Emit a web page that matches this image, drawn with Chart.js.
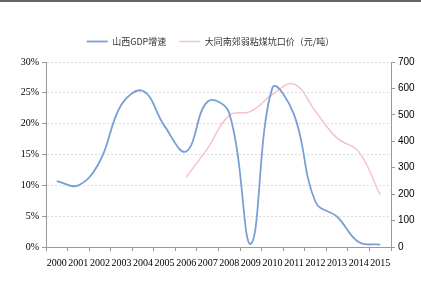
<!DOCTYPE html>
<html>
<head>
<meta charset="utf-8">
<script src="https://cdn.jsdelivr.net/npm/chart.js@4/dist/chart.umd.min.js"></script>
<style>
  html, body { margin: 0; padding: 0; background: #fff; }
  #wrap { width: 421px; height: 301px; position: relative; box-sizing: border-box; border-top: 2px solid #666; }
  canvas { display: block; }
</style>
</head>
<body>
<div id="wrap"><canvas id="chart" width="421" height="299"></canvas></div>
<script>
const years = ['2000','2001','2002','2003','2004','2005','2006','2007','2008','2009','2010','2011','2012','2013','2014','2015'];
const gdpGrowth = [10.7, 10.0, 13.9, 23.1, 25.3, 19.6, 15.5, 23.6, 21.7, 0.5, 25.8, 21.5, 7.3, 4.9, 0.8, 0.4];
const coalPrice = [null, null, null, null, null, null, 264, 374, 498, 513, 577, 617, 513, 412, 361, 197];
const leftTicks = [0, 5, 10, 15, 20, 25, 30];
const rightTicks = [0, 100, 200, 300, 400, 500, 600, 700];

const serif = "'Liberation Serif', 'Noto Sans CJK SC', serif";

// leave a bit more room under the legend
const legendGap = {
    id: 'legendGap',
    afterInit(chart) {
        const lg = chart.legend;
        if (lg) {
            const fit = lg.fit;
            lg.fit = function () { fit.call(this); this.height += 6; };
        }
    }
};

new Chart(document.getElementById('chart'), {
    type: 'line',
    data: {
        labels: years,
        datasets: [{
            label: '山西GDP增速',
            data: gdpGrowth,
            yAxisID: 'y',
            borderColor: '#7a9fd5',
            backgroundColor: '#7a9fd5',
            borderWidth: 1.8,
            pointRadius: 0,
            tension: 0.4
        }, {
            label: '大同南郊弱粘煤坑口价（元/吨）',
            data: coalPrice,
            yAxisID: 'y1',
            borderColor: '#f6c3ca',
            backgroundColor: '#f6c3ca',
            borderWidth: 1.5,
            pointRadius: 0,
            tension: 0.4
        }]
    },
    plugins: [legendGap],
    options: {
        responsive: false,
        animation: false,
        layout: { padding: { top: 22, bottom: 0, left: 0, right: 0 } },
        plugins: {
            tooltip: { enabled: false },
            legend: {
                labels: {
                    usePointStyle: true,
                    pointStyle: 'line',
                    pointStyleWidth: 21,
                    color: '#333',
                    font: { family: "'Noto Sans CJK SC', serif", size: 9 },
                    padding: 13
                }
            }
        },
        scales: {
            x: {
                offset: true,
                grid: { offset: true, drawOnChartArea: false, color: '#999', tickLength: 4 },
                border: { color: '#999' },
                ticks: { color: '#000', font: { family: serif, size: 10 }, maxRotation: 0, autoSkip: false, padding: 6 },
                afterFit: s => { s.height = 54; }
            },
            y: {
                position: 'left',
                min: 0, max: 30,
                afterBuildTicks: s => { s.ticks = leftTicks.map(v => ({ value: v })); },
                grid: { color: '#dcdcdc', tickLength: 4, tickColor: '#999' },
                border: { color: '#999', dash: [2, 2] },
                ticks: { color: '#000', font: { family: serif, size: 10 }, callback: v => v + '%' },
                afterFit: s => { s.width = 46; }
            },
            y1: {
                position: 'right',
                min: 0, max: 700,
                afterBuildTicks: s => { s.ticks = rightTicks.map(v => ({ value: v })); },
                grid: { drawOnChartArea: false, tickLength: 4, color: '#999' },
                border: { color: '#999' },
                ticks: { color: '#000', font: { family: "'Liberation Sans', sans-serif", size: 10 } },
                afterFit: s => { s.width = 30; }
            }
        }
    }
});
</script>
</body>
</html>
